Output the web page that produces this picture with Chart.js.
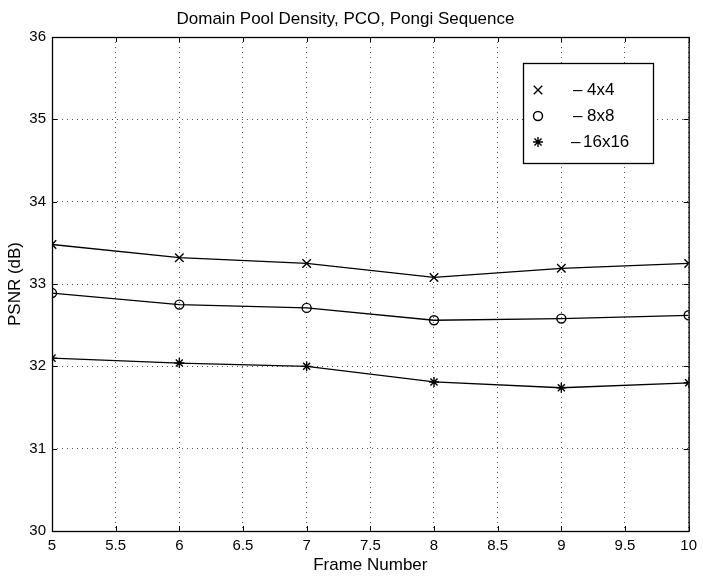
<!DOCTYPE html>
<html>
<head>
<meta charset="utf-8">
<script src="https://cdn.jsdelivr.net/npm/chart.js@4"></script>
<style>
  html, body { margin: 0; padding: 0; background: #fff; }
  #wrap { width: 703px; height: 576px; }
</style>
</head>
<body>
<div id="wrap"><canvas id="psnr"></canvas></div>
<script>
// Domain Pool Density, PCO, Pongi Sequence
const frames = [5, 6, 7, 8, 9, 10];
const psnr4x4 = [33.48, 33.32, 33.25, 33.08, 33.19, 33.25];
const psnr8x8 = [32.89, 32.75, 32.71, 32.56, 32.58, 32.62];
const psnr16x16 = [32.10, 32.04, 32.00, 31.81, 31.74, 31.80];
const seriesLabels = ["4x4", "8x8", "16x16"];
const markers = ["crossRot", "circle", "star"];
const markerSizes = [6, 4.5, 5];

const FONT = "'Liberation Sans', Arial, Helvetica, sans-serif";

function toPoints(ys) {
  return frames.map((x, i) => ({ x: x, y: ys[i] }));
}

// inward tick marks on all four sides + the axes box
const innerTicks = {
  id: "innerTicks",
  afterDraw(chart) {
    const { ctx, chartArea: a, scales } = chart;
    const len = 5;
    ctx.save();
    ctx.strokeStyle = "#000";
    ctx.lineWidth = 1;
    ctx.beginPath();
    scales.x.ticks.forEach(t => {
      const px = Math.round(scales.x.getPixelForValue(t.value)) + 0.5;
      ctx.moveTo(px, a.bottom); ctx.lineTo(px, a.bottom - len);
      ctx.moveTo(px, a.top); ctx.lineTo(px, a.top + len);
    });
    scales.y.ticks.forEach(t => {
      const py = Math.round(scales.y.getPixelForValue(t.value)) + 0.5;
      ctx.moveTo(a.left, py); ctx.lineTo(a.left + len, py);
      ctx.moveTo(a.right, py); ctx.lineTo(a.right - len, py);
    });
    ctx.stroke();
    ctx.lineWidth = 1.3;
    ctx.strokeRect(a.left + 0.5, a.top + 0.5, a.right - a.left, a.bottom - a.top);
    ctx.restore();
  }
};

// legend box drawn inside the plot area (upper right)
const boxLegend = {
  id: "boxLegend",
  afterDraw(chart, args, opts) {
    const { ctx } = chart;
    const x = opts.left, y = opts.top;
    ctx.save();
    ctx.fillStyle = "#fff";
    ctx.fillRect(x, y, opts.width, opts.height);
    ctx.strokeStyle = "#000";
    ctx.lineWidth = 1.3;
    ctx.strokeRect(x + 0.5, y + 0.5, opts.width, opts.height);
    ctx.textBaseline = "middle";
    chart.data.datasets.forEach((ds, i) => {
      const ry = y + opts.firstRow + i * opts.rowGap;
      ctx.fillStyle = "rgba(0,0,0,0)";
      ctx.strokeStyle = "#000";
      ctx.lineWidth = ds.pointBorderWidth;
      Chart.helpers.drawPoint(ctx, {
        pointStyle: ds.pointStyle,
        radius: ds.pointRadius,
        borderWidth: ds.pointBorderWidth
      }, x + opts.markerX, ry);
      ctx.fillStyle = "#000";
      ctx.font = "17px " + FONT;
      ctx.fillText("\u2013", x + opts.dashX - (ds.label.length > 3 ? 2 : 0), ry);
      ctx.fillText(ds.label, x + opts.textX - (ds.label.length > 3 ? 4 : 0), ry);
    });
    ctx.restore();
  }
};

function makeSet(i, ys) {
  return {
    label: seriesLabels[i],
    data: toPoints(ys),
    borderColor: "#000",
    backgroundColor: "#000",
    pointBackgroundColor: "rgba(0,0,0,0)",
    pointBorderColor: "#000",
    borderWidth: 1.3,
    pointStyle: markers[i],
    pointRadius: markerSizes[i],
    pointBorderWidth: 1.4,
    tension: 0,
    fill: false
  };
}

new Chart(document.getElementById("psnr"), {
  type: "line",
  data: {
    datasets: [
      makeSet(0, psnr4x4),
      makeSet(1, psnr8x8),
      makeSet(2, psnr16x16)
    ]
  },
  options: {
    responsive: true,
    maintainAspectRatio: false,
    animation: false,
    layout: { padding: { left: 0, right: 12, top: 0, bottom: 0 } },
    plugins: {
      legend: { display: false },
      tooltip: { enabled: false },
      title: {
        display: true,
        text: "Domain Pool Density, PCO, Pongi Sequence",
        color: "#000",
        font: { family: FONT, size: 17, weight: "normal" },
        padding: { top: 9, bottom: 7.6 }
      },
      boxLegend: {
        left: 523, top: 63, width: 130, height: 100,
        firstRow: 27, rowGap: 26,
        markerX: 15, dashX: 50, textX: 64
      }
    },
    scales: {
      x: {
        type: "linear",
        min: 5,
        max: 10,
        ticks: {
          stepSize: 0.5,
          color: "#000",
          font: { family: FONT, size: 15 },
          padding: 6,
          maxRotation: 0,
          callback: v => String(v)
        },
        grid: {
          color: "#555",
          drawTicks: false
        },
        border: { display: false, dash: [1, 4] },
        title: {
          display: true,
          text: "Frame Number",
          color: "#000",
          font: { family: FONT, size: 17 },
          padding: { top: 0, bottom: 0 }
        },
        afterFit(scale) { scale.height = 45; }
      },
      y: {
        type: "linear",
        min: 30,
        max: 36,
        ticks: {
          stepSize: 1,
          color: "#000",
          font: { family: FONT, size: 15 },
          padding: 6
        },
        grid: {
          color: "#555",
          drawTicks: false
        },
        border: { display: false, dash: [1, 4] },
        title: {
          display: true,
          text: "PSNR (dB)",
          color: "#000",
          font: { family: FONT, size: 17 },
          padding: { top: 5, bottom: 0 }
        },
        afterFit(scale) { scale.width = 52; }
      }
    }
  },
  plugins: [innerTicks, boxLegend]
});
</script>
</body>
</html>
